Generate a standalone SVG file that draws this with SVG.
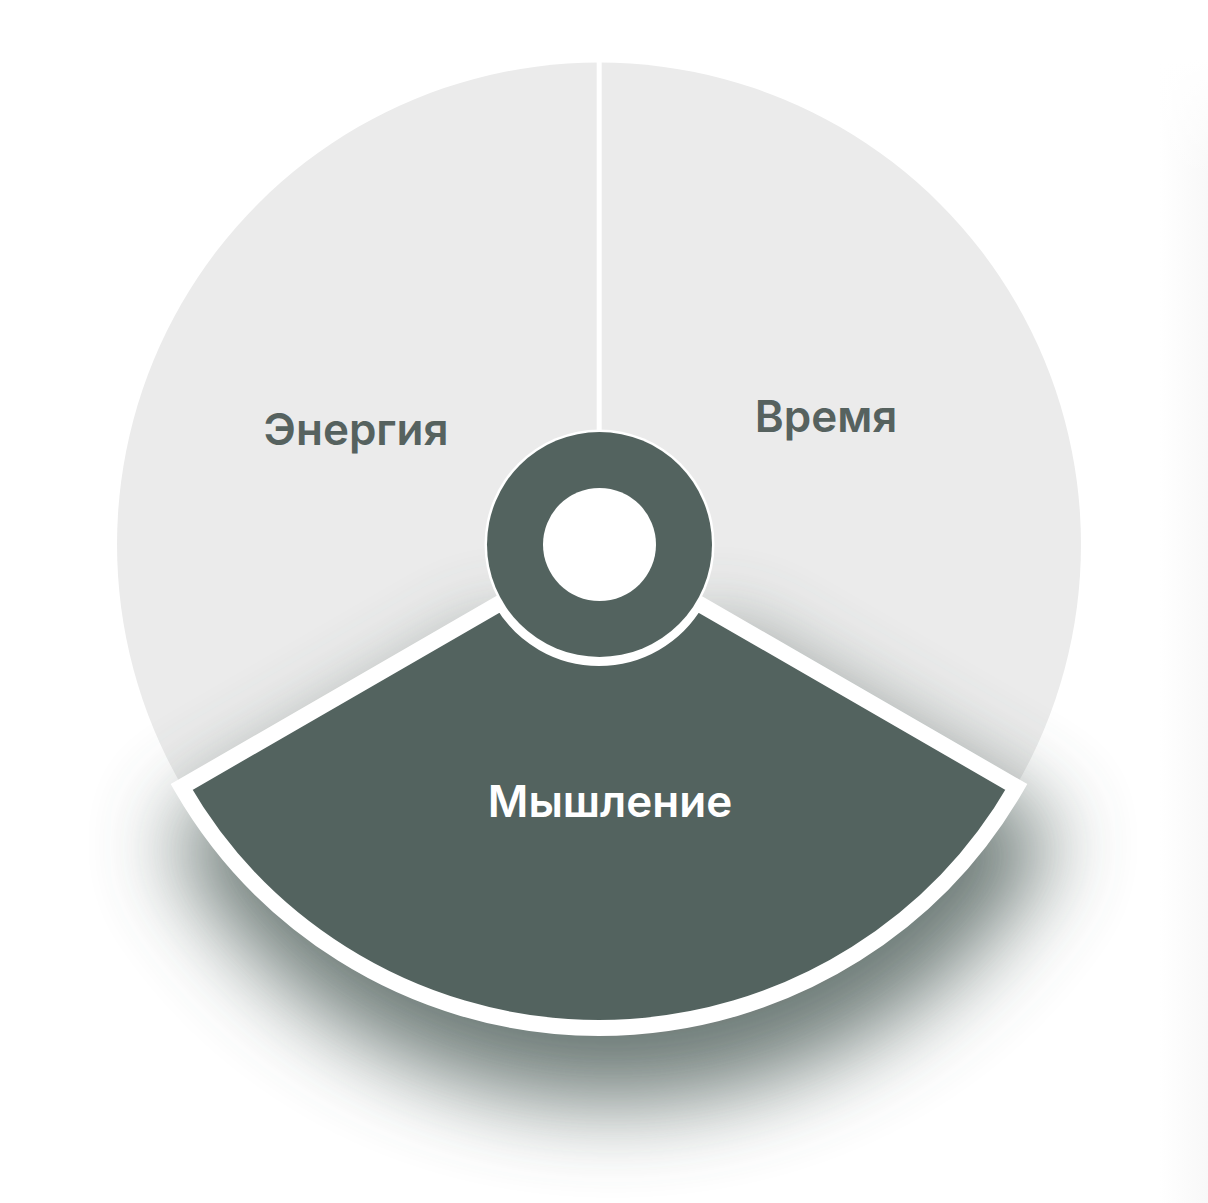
<svg xmlns="http://www.w3.org/2000/svg" width="1208" height="1203" viewBox="0 0 1208 1203">
  <defs>
    <style>
      .lbl { font-family: Inter, "Noto Sans", "Liberation Sans", sans-serif; font-size: 44px; font-weight: 600; text-anchor: middle; }
      .dark { fill: #56625f; }
      .light { fill: #ffffff; }
      .sector-gray { fill: #ebebeb; }
      .accent { fill: #53635f; }
    </style>
    <filter id="softShadow" x="-50%" y="-50%" width="200%" height="200%">
      <feGaussianBlur stdDeviation="44"/>
    </filter>
    <linearGradient id="edgeFade" x1="0" y1="0" x2="1" y2="0">
      <stop offset="0" stop-color="#ffffff"/>
      <stop offset="1" stop-color="#f8f8f8"/>
    </linearGradient>
    <linearGradient id="topFade" x1="0" y1="0" x2="0" y2="1">
      <stop offset="0" stop-color="#ffffff" stop-opacity="1"/>
      <stop offset="1" stop-color="#ffffff" stop-opacity="0"/>
    </linearGradient>
  </defs>

  <rect width="1208" height="1203" fill="#ffffff"/>
  <rect x="1160" y="60" width="48" height="1143" fill="url(#edgeFade)"/>
  <rect x="1160" y="60" width="48" height="120" fill="url(#topFade)"/>

  <g id="node-energia">
    <path class="sector-gray" d="M599,544.5 L599,62.5 A482,482 0 0 0 181.6,785.5 Z"/>
    <text class="lbl dark" x="356" y="445">Энергия</text>
  </g>

  <g id="node-vremya">
    <path class="sector-gray" d="M599,544.5 L599,62.5 A482,482 0 0 1 1016.4,785.5 Z"/>
    <text class="lbl dark" x="826" y="432">Время</text>
  </g>

  <g id="connectors">
    <line x1="599.2" y1="60" x2="599.2" y2="445" stroke="#ffffff" stroke-width="5"/>
  </g>

  <g id="node-myshlenie">
    <path class="accent" opacity="0.85" filter="url(#softShadow)" transform="translate(14,52)" stroke="#53635f" stroke-width="44" stroke-linejoin="round" d="M502,602 L181.6,787 A482,482 0 0 0 1016.4,787 L696,602 A112,112 0 0 1 502,602 Z"/>
    <path class="accent" stroke="#ffffff" stroke-width="16" stroke-linejoin="miter" d="M502,602 L181.6,787 A482,482 0 0 0 1016.4,787 L696,602 A112,112 0 0 1 502,602 Z"/>
    <text class="lbl light" x="610" y="817">Мышление</text>
  </g>

  <g id="node-center">
    <circle cx="599.5" cy="544.5" r="115" fill="#ffffff"/>
    <circle cx="599.5" cy="544.5" r="112.5" class="accent"/>
    <circle cx="599.5" cy="544.5" r="56.5" fill="#ffffff"/>
  </g>
</svg>
